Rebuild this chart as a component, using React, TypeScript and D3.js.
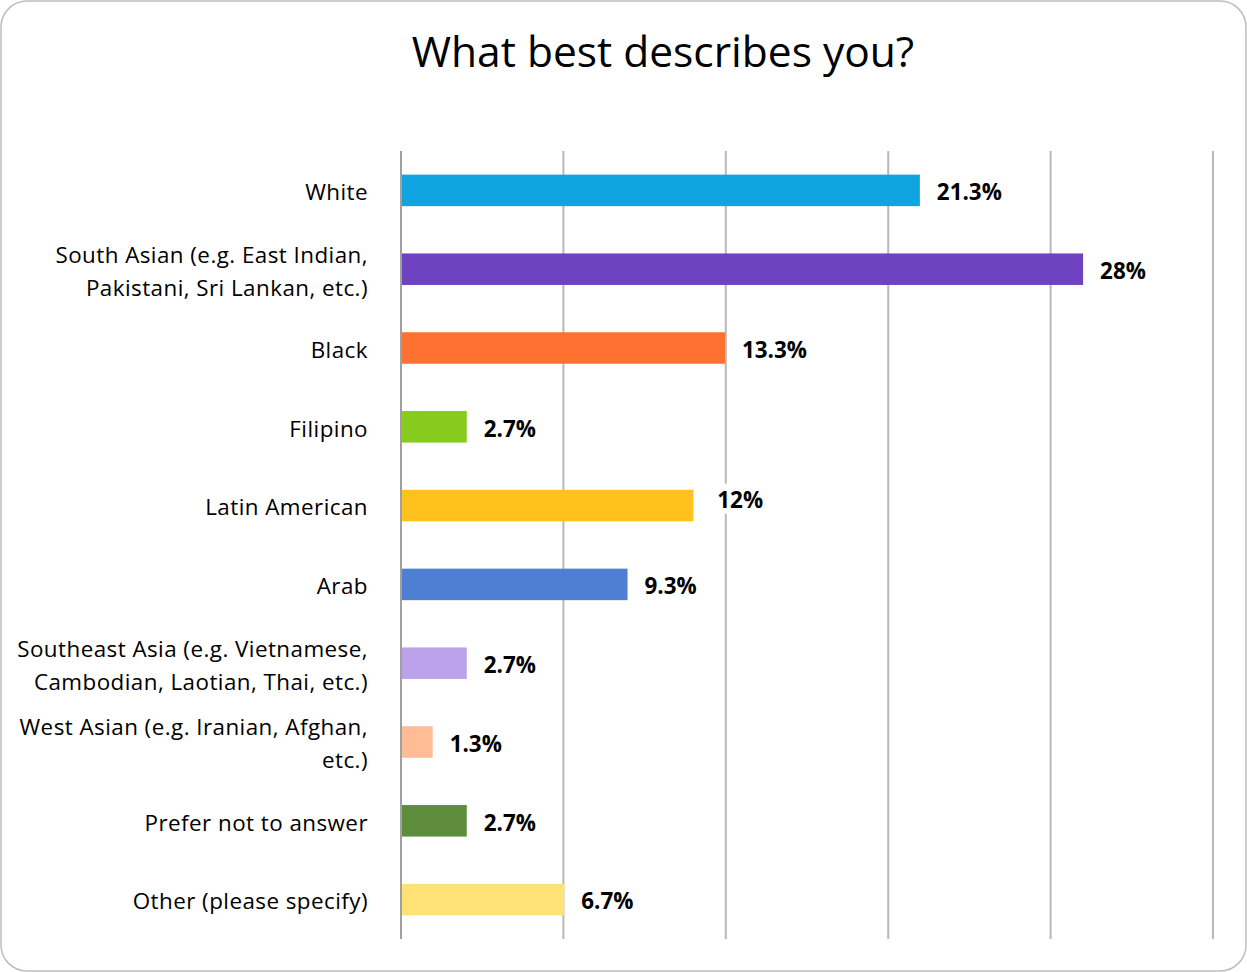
import React from "react";
import * as d3 from "d3";

const categories: string[][] = [
  ["White"],
  ["South Asian (e.g. East Indian,", "Pakistani, Sri Lankan, etc.)"],
  ["Black"],
  ["Filipino"],
  ["Latin American"],
  ["Arab"],
  ["Southeast Asia (e.g. Vietnamese,", "Cambodian, Laotian, Thai, etc.)"],
  ["West Asian (e.g. Iranian, Afghan,", "etc.)"],
  ["Prefer not to answer"],
  ["Other (please specify)"],
];
const values: number[] = [21.3, 28, 13.3, 2.7, 12, 9.3, 2.7, 1.3, 2.7, 6.7];
const valueLabels: string[] = ["21.3%", "28%", "13.3%", "2.7%", "12%", "9.3%", "2.7%", "1.3%", "2.7%", "6.7%"];
const colors: string[] = [
  "#10A4E1", "#6E42C1", "#FF7130", "#86CB1E", "#FFC21D",
  "#4F7FD3", "#BBA2EA", "#FFBC95", "#5E8D3E", "#FFE275",
];
const gridTicks: number[] = [0, 20 / 3, 40 / 3, 20, 80 / 3, 100 / 3];
const title = "What best describes you?";

const W = 1247;
const H = 972;
const FONT = "'Open Sans', sans-serif";

export default function App() {
  const x = d3.scaleLinear().domain([0, 100 / 3]).range([401, 1213]);
  const idx = categories.map((_, i) => String(i));
  const y = d3.scaleBand().domain(idx).range([151, 939]).paddingInner(0.6).paddingOuter(0.3);
  const bw = y.bandwidth();

  return (
    <svg width={W} height={H} style={{ position: "absolute", left: 0, top: 0 }}>
      <rect x={1} y={1} width={W - 2} height={H - 2} rx={26} ry={26} fill="#fff" stroke="#BDBDBD" strokeWidth={1.5} />
      <text x={663} y={67} textAnchor="middle" fontFamily={FONT} fontSize={42.5} fill="#000">{title}</text>
      {gridTicks.slice(1).map((t, i) => (
        <line key={"g" + i} x1={x(t)} x2={x(t)} y1={151} y2={939} stroke="#B8B8B8" strokeWidth={2} />
      ))}
      {values.map((v, i) => (
        <rect key={"b" + i} x={x(0)} y={y(String(i))} width={x(v) - x(0)} height={bw} fill={colors[i]} />
      ))}
      <line x1={x(0)} x2={x(0)} y1={151} y2={939} stroke="#A0A0A0" strokeWidth={2} />
      {values.map((v, i) => {
        const yc = (y(String(i)) as number) + bw / 2;
        const shifted = i === 4;
        const lx = x(v) + (shifted ? 24 : 17);
        const ly = yc + (shifted ? -7 : 0);
        const tw = valueLabels[i].length * 13.5;
        return (
          <g key={"l" + i}>
            <rect x={lx - 4} y={ly - 15} width={tw + 8} height={30} fill="#fff" />
            <text x={lx} y={ly} dy="0.44em" fontFamily={FONT} fontWeight="bold" fontSize={22.4} fill="#000">{valueLabels[i]}</text>
          </g>
        );
      })}
      {categories.map((lines, i) => {
        const yc = (y(String(i)) as number) + bw / 2;
        const lh = 33;
        const start = yc - ((lines.length - 1) * lh) / 2;
        return (
          <text key={"c" + i} x={368} textAnchor="end" fontFamily={FONT} fontSize={22.4} letterSpacing={0.45} fill="#000">
            {lines.map((ln, j) => (
              <tspan key={j} x={368} y={start + j * lh} dy="0.44em">{ln}</tspan>
            ))}
          </text>
        );
      })}
    </svg>
  );
}
